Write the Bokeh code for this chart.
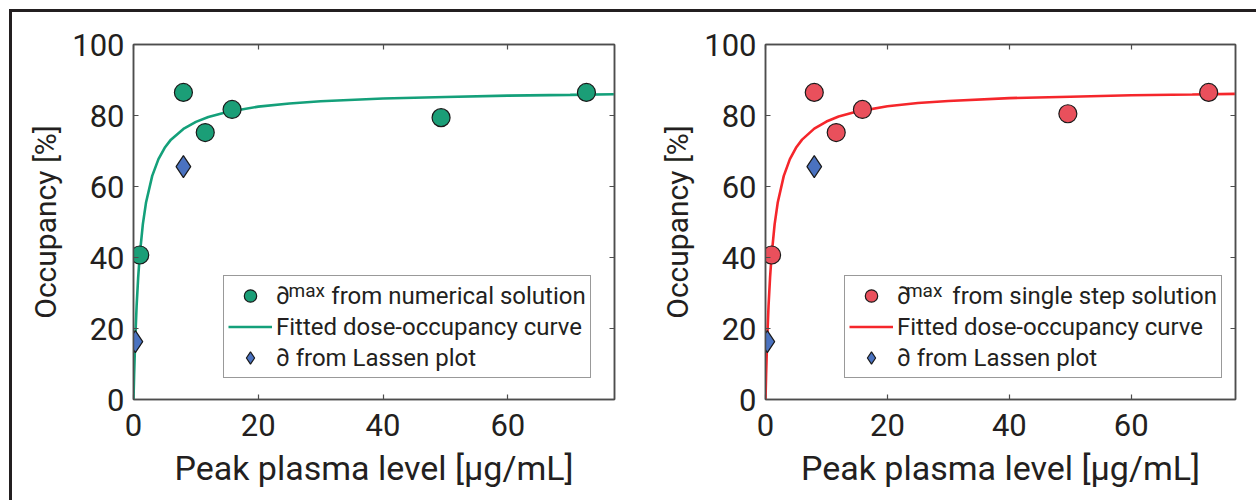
from bokeh.plotting import figure
from bokeh.models import (LinearAxis, Legend, LegendItem, FixedTicker, Range1d,
                          CustomLabelingPolicy)
from bokeh.core.properties import value
from bokeh.layouts import row
from bokeh.embed import file_html
from bokeh.resources import INLINE

# ---- data ----
conc_num = [1.0, 8.0, 11.5, 15.8, 49.3, 72.6]
occ_num = [40.7, 86.5, 75.2, 81.7, 79.4, 86.5]

conc_ss = [1.0, 8.0, 11.6, 15.9, 49.6, 72.7]
occ_ss = [40.7, 86.5, 75.2, 81.7, 80.5, 86.5]

conc_lassen = [0.3, 8.0]
occ_lassen = [16.3, 65.6]

fit_conc = [0, 0.1, 0.25, 0.5, 0.75, 1, 1.5, 2, 3, 4, 5, 6, 8, 10, 12, 15,
            20, 25, 30, 40, 50, 60, 70, 77]
fit_occ_num = [0, 7.0, 15.6, 26.4, 34.4, 40.6, 49.4, 55.4, 63.0, 67.7, 70.9,
               73.2, 76.2, 78.2, 79.6, 81.0, 82.5, 83.4, 84.0, 84.8, 85.2,
               85.6, 85.8, 86.0]
fit_occ_ss = [0, 7.0, 15.6, 26.4, 34.4, 40.6, 49.4, 55.4, 63.0, 67.7, 70.9,
              73.2, 76.3, 78.3, 79.7, 81.1, 82.6, 83.5, 84.1, 84.9, 85.3,
              85.7, 85.9, 86.1]

x_ticks = [0, 20, 40, 60]
y_ticks = [0, 20, 40, 60, 80, 100]

GAP = "\u00a0" * 6
label_num = "\u2202" + GAP + " from numerical solution"
label_ss = "\u2202" + GAP + " from single step solution"
label_fit = "Fitted dose-occupancy curve"
label_lassen = "\u2202 from Lassen plot"
sup_text = ["max"]
x_label = "Peak plasma level [\u03bcg/mL]"
y_label = "Occupancy [%]"

X_MAX = 77.1
Y_MAX = 100

FONT = "Roboto"
TXT = "#231f20"
AX = "#4d4d4d"

hide_labels = "for (const i of indices) indices.unset(i); return indices"

FIG_H = 488
BORDER_TOP = 32
BORDER_BOTTOM = 101
LEG_PAD = 4
LEG_ROW = 31
LEG_GLYPH_W = 44
LEG_STANDOFF = 4
LEG_Y = 21


def style_axis(ax, show_labels):
    ax.major_tick_in = 5
    ax.major_tick_out = 0
    ax.minor_tick_in = 0
    ax.minor_tick_out = 0
    ax.axis_line_color = AX
    ax.axis_line_width = 1.5
    ax.major_tick_line_color = AX
    ax.major_tick_line_width = 1.2
    if show_labels:
        ax.major_label_text_font = FONT
        ax.major_label_text_font_size = "31px"
        ax.major_label_text_color = TXT
        ax.axis_label_text_font = FONT
        ax.axis_label_text_font_style = "normal"
        ax.axis_label_text_color = TXT
    else:
        ax.major_label_policy = CustomLabelingPolicy(code=hide_labels)
        ax.major_label_standoff = 0


def make_panel(conc, occ, fit_occ, fill, line_col, lab_pts, width, mleft, mright, legend_x):
    p = figure(width=width, height=FIG_H, x_range=Range1d(0, X_MAX), y_range=Range1d(0, Y_MAX),
               output_backend="svg", toolbar_location=None,
               min_border_left=mleft, min_border_right=mright,
               min_border_top=BORDER_TOP, min_border_bottom=BORDER_BOTTOM)
    p.grid.visible = False
    p.outline_line_color = AX
    p.outline_line_width = 1.5
    p.background_fill_color = "white"
    p.border_fill_color = "white"

    p.xaxis.ticker = FixedTicker(ticks=x_ticks)
    p.yaxis.ticker = FixedTicker(ticks=y_ticks)
    p.xaxis.axis_label = x_label
    p.yaxis.axis_label = y_label
    style_axis(p.xaxis[0], True)
    style_axis(p.yaxis[0], True)
    p.xaxis.axis_label_text_font_size = "34px"
    p.yaxis.axis_label_text_font_size = "30px"
    p.xaxis.major_label_standoff = 14
    p.yaxis.major_label_standoff = 9
    p.xaxis.axis_label_standoff = 9
    p.yaxis.axis_label_standoff = 6

    top = LinearAxis(ticker=FixedTicker(ticks=x_ticks))
    style_axis(top, False)
    p.add_layout(top, "above")
    right = LinearAxis(ticker=FixedTicker(ticks=y_ticks))
    style_axis(right, False)
    p.add_layout(right, "right")

    r_line = p.line(fit_conc, fit_occ, line_color=line_col, line_width=2.6)
    r_pts = p.scatter(conc, occ, marker="circle", size=18, fill_color=fill,
                      line_color="#1a1a1a", line_width=1.2)
    r_dia = p.scatter(conc_lassen, occ_lassen, marker="diamond", size=22,
                      fill_color="#4a72c0", line_color="#1a1a1a", line_width=1.2)

    leg = Legend(items=[LegendItem(label=lab_pts, renderers=[r_pts]),
                        LegendItem(label=label_fit, renderers=[r_line]),
                        LegendItem(label=label_lassen, renderers=[r_dia])],
                 location=(legend_x, LEG_Y))
    leg.label_text_font = FONT
    leg.label_text_font_size = "24px"
    leg.label_text_color = TXT
    leg.glyph_width = LEG_GLYPH_W
    leg.glyph_height = LEG_ROW
    leg.label_height = LEG_ROW
    leg.label_standoff = LEG_STANDOFF
    leg.spacing = 0
    leg.padding = LEG_PAD
    leg.margin = 0
    leg.border_line_color = "#333333"
    leg.border_line_width = 1.5
    leg.background_fill_alpha = 0.0
    p.add_layout(leg, "center")

    # superscript "max" placed just after the first legend label's partial sign
    frame_w = width - mleft - mright
    frame_h = FIG_H - BORDER_TOP - BORDER_BOTTOM
    leg_h = 2 * LEG_PAD + 3 * LEG_ROW
    first_center = LEG_Y + leg_h - LEG_PAD - LEG_ROW / 2
    sx = legend_x + LEG_PAD + LEG_GLYPH_W + LEG_STANDOFF + 13
    sy = first_center + 7
    p.text(x=[sx * X_MAX / frame_w], y=[sy * Y_MAX / frame_h], text=sup_text,
           text_font=value(FONT), text_font_size="19px", text_color=TXT,
           text_baseline="middle", text_align="left", level="overlay")
    return p


p1 = make_panel(conc_num, occ_num, fit_occ_num, "#1b9e77", "#14a07a", label_num,
                628, 121, 26, 90)
p2 = make_panel(conc_ss, occ_ss, fit_occ_ss, "#e9505c", "#f5262b", label_ss,
                616, 125, 9, 79)

layout = row(p1, p2, styles={"margin-left": "9px", "margin-top": "9px",
                             "border-top": "3px solid #231f20",
                             "border-left": "3px solid #231f20"})

open("out.html", "w").write(file_html(layout, INLINE))
